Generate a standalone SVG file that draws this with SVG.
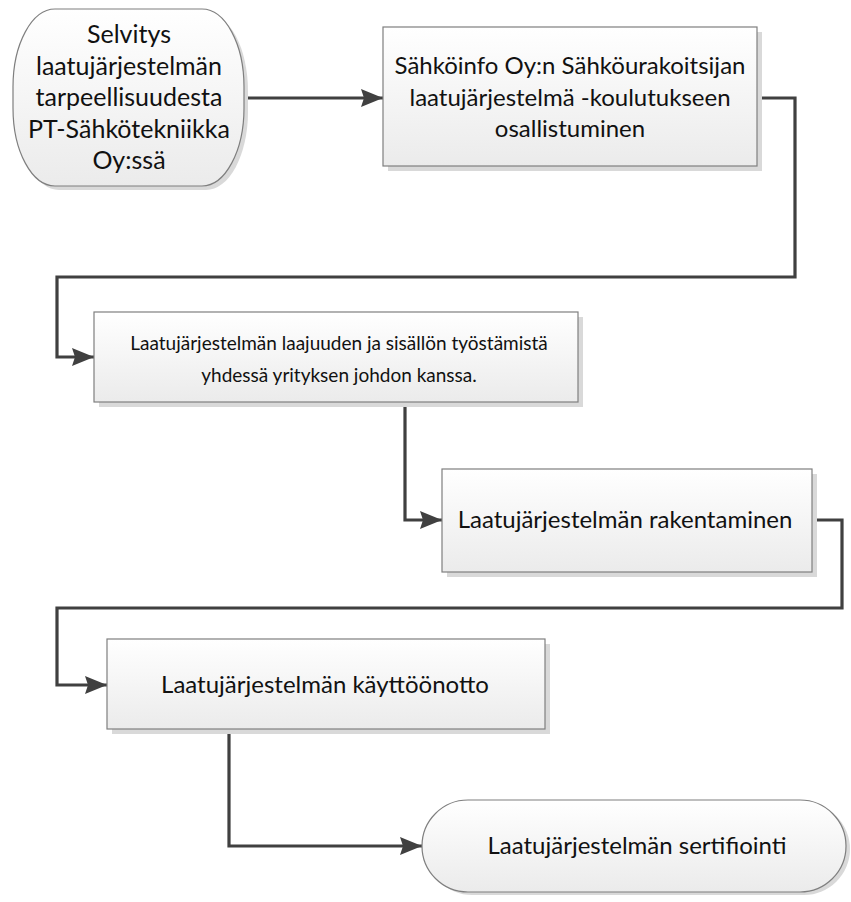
<svg xmlns="http://www.w3.org/2000/svg" width="851" height="902" viewBox="0 0 851 902">
<defs>
<linearGradient id="g" x1="0" y1="0" x2="0" y2="1">
<stop offset="0" stop-color="#ffffff"/>
<stop offset="1" stop-color="#ebebeb"/>
</linearGradient>
<marker id="arr" markerUnits="userSpaceOnUse" markerWidth="24" markerHeight="20" refX="22" refY="10" orient="auto">
<path d="M0,1 L22,10 L0,19 L3,10 Z" fill="#404040"/>
</marker>
</defs>
<style>
.box{fill:url(#g);stroke:#7f7f7f;stroke-width:1.2}
.sh{fill:#d9d9d9}
.t{font-family:Lato,"Liberation Sans",sans-serif;font-size:24px;fill:#111111;text-anchor:middle}
.t1{font-size:25px}
.t3{font-size:19px}
.c{fill:none;stroke:#404040;stroke-width:3.2;stroke-linejoin:miter}
</style>
<rect width="851" height="902" fill="#ffffff"/>
<g id="connectors">
<path class="c" d="M244,98 H383" marker-end="url(#arr)"/>
<path class="c" d="M757,98 H795 V277 H57 V357 H94" marker-end="url(#arr)"/>
<path class="c" d="M405,402 V520 H442" marker-end="url(#arr)"/>
<path class="c" d="M812,520 H842 V608 H57 V685 H107" marker-end="url(#arr)"/>
<path class="c" d="M194,729 H229 V846 H422" marker-end="url(#arr)"/>
</g>
<g id="n1">
<rect class="sh" x="17" y="13" width="231" height="177" rx="42" ry="78"/>
<rect class="box" x="13" y="9" width="231" height="177" rx="42" ry="78"/>
<text class="t t1" x="129" y="43">Selvitys</text>
<text class="t t1" x="129" y="75">laatujärjestelmän</text>
<text class="t t1" x="129" y="106">tarpeellisuudesta</text>
<text class="t t1" x="129" y="138">PT-Sähkötekniikka</text>
<text class="t t1" x="129" y="169">Oy:ssä</text>
</g>
<g id="n2">
<rect class="sh" x="388" y="32" width="374" height="139"/>
<rect class="box" x="383" y="27" width="374" height="139"/>
<text class="t" x="570" y="74">Sähköinfo Oy:n Sähköurakoitsijan</text>
<text class="t" x="570" y="106">laatujärjestelmä -koulutukseen</text>
<text class="t" x="570" y="137">osallistuminen</text>
</g>
<g id="n3">
<rect class="sh" x="99" y="317" width="484" height="90"/>
<rect class="box" x="94" y="312" width="484" height="90"/>
<text class="t t3" x="339" y="350">Laatujärjestelmän laajuuden ja sisällön työstämistä</text>
<text class="t t3" x="339" y="382">yhdessä yrityksen johdon kanssa.</text>
</g>
<g id="n4">
<rect class="sh" x="447" y="474" width="370" height="103"/>
<rect class="box" x="442" y="469" width="370" height="103"/>
<text class="t" x="625" y="528">Laatujärjestelmän rakentaminen</text>
</g>
<g id="n5">
<rect class="sh" x="112" y="644" width="438" height="90"/>
<rect class="box" x="107" y="639" width="438" height="90"/>
<text class="t" x="325" y="693">Laatujärjestelmän käyttöönotto</text>
</g>
<g id="n6">
<rect class="sh" x="426" y="803" width="424" height="92" rx="46" ry="46"/>
<rect class="box" x="422" y="800" width="424" height="92" rx="46" ry="46"/>
<text class="t" x="637" y="854">Laatujärjestelmän sertifiointi</text>
</g>
</svg>
